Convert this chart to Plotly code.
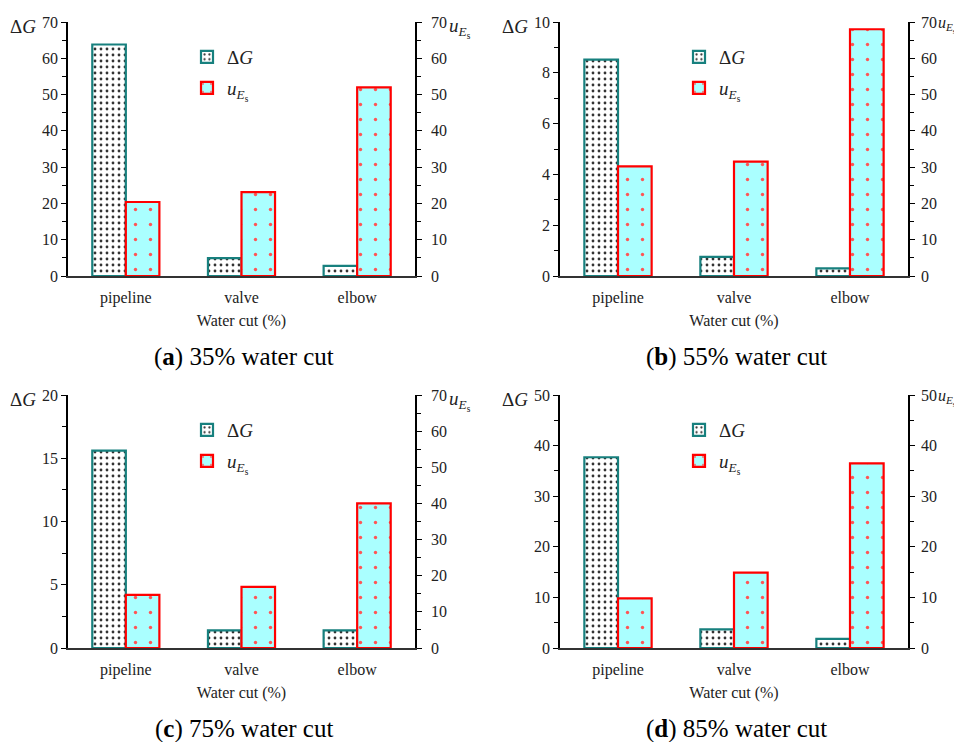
import plotly.graph_objects as go

categories = ["pipeline", "valve", "elbow"]
dg_35 = [63.8, 4.9, 2.8]
ue_35 = [20.4, 23.1, 52.0]
dg_55 = [8.52, 0.75, 0.3]
ue_55 = [30.2, 31.5, 68.0]
dg_75 = [15.6, 1.4, 1.4]
ue_75 = [14.7, 16.9, 40.0]
dg_85 = [37.7, 3.7, 1.8]
ue_85 = [9.8, 14.9, 36.5]

captions = ["(<b>a</b>) 35% water cut", "(<b>b</b>) 55% water cut",
            "(<b>c</b>) 75% water cut", "(<b>d</b>) 85% water cut"]
left_ranges = [(70, 10, 5), (10, 2, 1), (20, 5, 2.5), (50, 10, 5)]
right_ranges = [(70, 10, 5), (70, 10, 5), (70, 10, 5), (50, 10, 5)]
panels = [(dg_35, ue_35), (dg_55, ue_55), (dg_75, ue_75), (dg_85, ue_85)]

OFF = 8  # page body margin
W, H = 962 - OFF, 742 - OFF
TEAL = "#17807e"
RED = "#ff0000"
CYAN = "#aaffff"
FONT = "Liberation Serif, Times New Roman, serif"
TXT = "#222222"


def px(x):
    return (x - OFF) / W


def py(y):
    return 1 - (y - OFF) / H


# pixel boxes in screen coords (left, right, top, bottom)
boxes = [(68, 415, 22, 276), (560, 908, 22, 276),
         (68, 415, 395, 648), (560, 908, 395, 648)]

fig = go.Figure()
layout = {}
annotations = []
UE_LABEL = "<i>u</i><sub><i>E</i><sub>s</sub></sub>"

for i, ((dg, ue), box) in enumerate(zip(panels, boxes)):
    n = i + 1
    xa = "x" if n == 1 else f"x{n}"
    yl_i = 2 * i + 1
    yr_i = 2 * i + 2
    yl = "y" if yl_i == 1 else f"y{yl_i}"
    yr = f"y{yr_i}"
    leg1 = "legend" if yl_i == 1 else f"legend{yl_i}"
    leg2 = f"legend{yr_i}"
    L, R, T, B = box
    xdom = [px(L), px(R)]
    ydom = [py(B), py(T)]
    near_edge = R > 900

    fig.add_trace(go.Bar(
        x=categories, y=dg, xaxis=xa, yaxis=yl, name="Δ<i>G</i>",
        width=0.29, offset=-0.29, legend=leg1,
        marker=dict(color="white", line=dict(color=TEAL, width=2.2),
                    pattern=dict(shape=".", fgcolor="#333333", bgcolor="white",
                                 size=6, solidity=0.17, fillmode="replace")),
    ))
    fig.add_trace(go.Bar(
        x=categories, y=ue, xaxis=xa, yaxis=yr, name=UE_LABEL,
        width=0.29, offset=0.0, legend=leg2,
        marker=dict(color=CYAN, line=dict(color=RED, width=2.2),
                    pattern=dict(shape=".", fgcolor="#ff5555", bgcolor=CYAN,
                                 size=15, solidity=0.04, fillmode="replace")),
    ))

    xkey = "xaxis" if n == 1 else f"xaxis{n}"
    layout[xkey] = dict(
        domain=xdom, anchor=yl, range=[-0.5, 2.5], type="category",
        showline=True, linecolor="#333333", linewidth=2, ticks="",
        ticklabelstandoff=6,
        tickfont=dict(family=FONT, size=16, color=TXT),
        title=dict(text="Water cut (%)", font=dict(family=FONT, size=16, color=TXT),
                   standoff=9),
        showgrid=False, zeroline=False, automargin=False,
    )
    lmax, ldt, lmin = left_ranges[i]
    rmax, rdt, rmin = right_ranges[i]
    ylkey = "yaxis" if yl_i == 1 else f"yaxis{yl_i}"
    common = dict(
        showline=True, linecolor="black", linewidth=1.5,
        ticks="outside", ticklen=5, tickwidth=1.3, tickcolor="black",
        tickfont=dict(family=FONT, size=16, color=TXT),
        showgrid=False, zeroline=False, automargin=False,
    )
    layout[ylkey] = dict(
        domain=ydom, anchor=xa, range=[0, lmax], dtick=ldt, tick0=0,
        minor=dict(dtick=lmin, ticks="outside", ticklen=4, tickwidth=1.3, tickcolor="black"),
        **common,
    )
    layout[f"yaxis{yr_i}"] = dict(
        domain=ydom, anchor=xa, overlaying=yl, side="right",
        range=[0, rmax], dtick=rdt, tick0=0,
        ticklabelstandoff=3 if near_edge else 6,
        minor=dict(dtick=rmin, ticks="outside", ticklen=4, tickwidth=1.3, tickcolor="black"),
        **common,
    )
    for k, (leg, dy) in enumerate([(leg1, 0), (leg2, 31)]):
        layout[leg] = dict(
            x=px(L + 119), y=py(T + 35 + dy), xanchor="left", yanchor="middle",
            bgcolor="rgba(0,0,0,0)", font=dict(family=FONT, size=19, color=TXT),
            itemwidth=30,
        )
    # axis name annotations
    annotations.append(dict(
        x=px(L - 30), y=py(T - 8), xref="paper", yref="paper",
        text="Δ<i>G</i>", showarrow=False, xanchor="right", yanchor="top",
        font=dict(family=FONT, size=19, color=TXT),
    ))
    annotations.append(dict(
        x=px(R + 28) if near_edge else px(R + 32),
        y=py(T - 10) if near_edge else py(T - 9),
        xref="paper", yref="paper",
        text=UE_LABEL, showarrow=False, xanchor="left", yanchor="top",
        font=dict(family=FONT, size=16 if near_edge else 19, color=TXT),
    ))
    annotations.append(dict(
        x=px((L + R) / 2 + 2), y=py(B + 81), xref="paper", yref="paper",
        text=captions[i], showarrow=False, xanchor="center", yanchor="middle",
        font=dict(family=FONT, size=25, color="black"),
    ))

fig.update_layout(
    template="none",
    width=W, height=H, margin=dict(l=0, r=0, t=0, b=0, pad=0),
    paper_bgcolor="white", plot_bgcolor="white",
    showlegend=True, annotations=annotations, **layout,
)
fig.write_html("out.html")
